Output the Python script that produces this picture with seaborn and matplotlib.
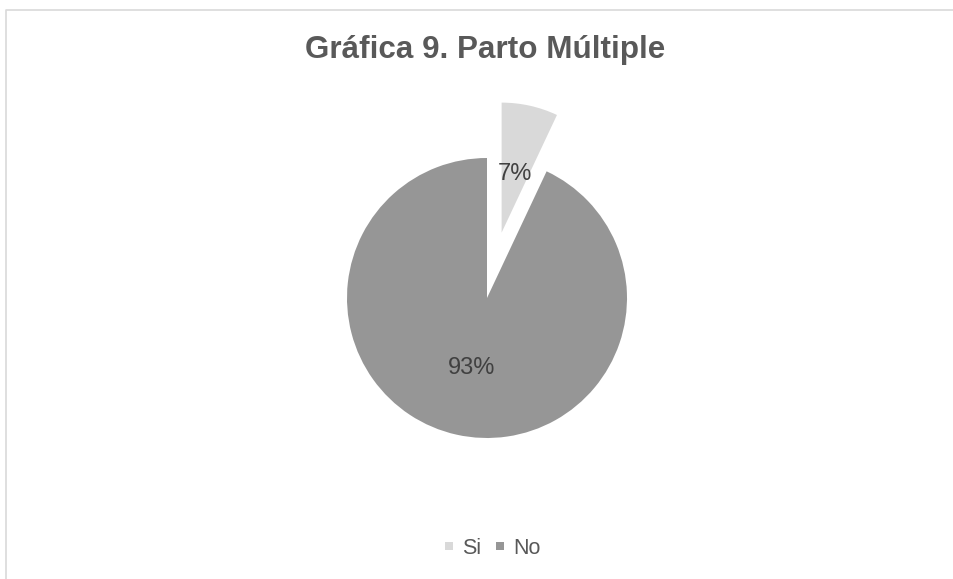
import matplotlib
matplotlib.use("Agg")
import matplotlib.pyplot as plt
import seaborn as sns
import numpy as np
from matplotlib.lines import Line2D

# Data
categories = ["Si", "No"]
values = [7, 93]
colors = ["#d9d9d9", "#969696"]
title = "Gráfica 9. Parto Múltiple"

sns.set_theme(style="white")
plt.rcParams['font.family'] = ['Liberation Sans', 'DejaVu Sans']

W, H = 954, 579
fig = plt.figure(figsize=(W / 100, H / 100), dpi=100)
fig.patch.set_facecolor("white")
ax = fig.add_axes([0, 0, 1, 1])

cx, cy, R = 487, H - 298, 140
wedges, texts, autotexts = ax.pie(
    values, colors=colors, startangle=90, counterclock=False,
    explode=[67, 0], radius=R, center=(cx, cy),
    autopct="%1.0f%%", pctdistance=0.515,
    wedgeprops=dict(linewidth=0),
    textprops=dict(color="#404040", fontsize=17),
)
ax.set_aspect("auto")
ax.set_xlim(0, W)
ax.set_ylim(0, H)
ax.axis("off")

# exploded slice drawn slightly smaller, as in the reference
wedges[0].set_radius(130)
th = np.deg2rad((wedges[0].theta1 + wedges[0].theta2) / 2)
vx, vy = wedges[0].center
autotexts[0].set_position((vx + 60 * np.cos(th), vy + 60 * np.sin(th)))

fig.text(485 / W, 1 - 58 / H, title, ha="center", va="baseline",
         fontsize=22.6, fontweight="bold", color="#595959")

handles = [Line2D([], [], marker="s", linestyle="", markersize=5.8,
                  markerfacecolor=c, markeredgewidth=0) for c in colors]
leg = fig.legend(handles, categories, loc="center", ncol=2,
                 bbox_to_anchor=(491.5 / W, 1 - 548 / H), frameon=False,
                 fontsize=15.5, handlelength=0.6, handletextpad=0.3,
                 columnspacing=0.6, borderpad=0)
for t in leg.get_texts():
    t.set_color("#595959")

# chart frame (partially visible)
fig.add_artist(Line2D([6.5 / W, 6.5 / W, 1.0], [0.0, 1 - 9.5 / H, 1 - 9.5 / H],
                      transform=fig.transFigure, color="#d9d9d9", linewidth=1.2))

fig.savefig("out.png", dpi=100)
